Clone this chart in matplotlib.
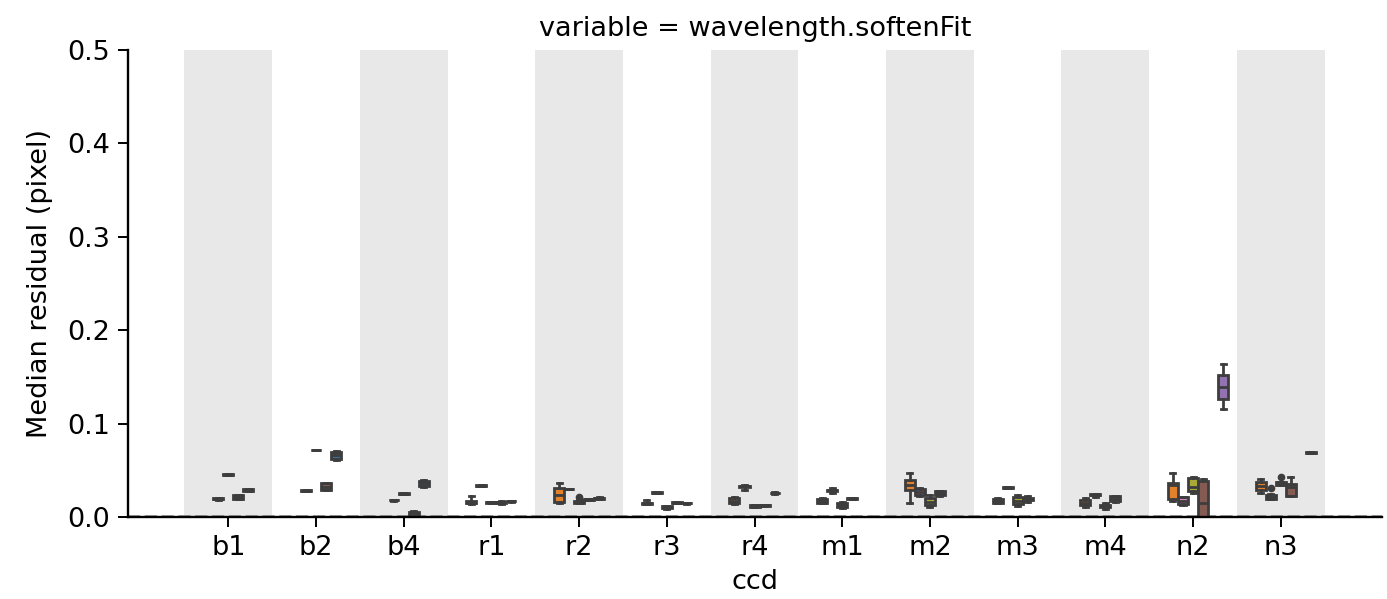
import colorsys

import matplotlib
matplotlib.use("Agg")
import matplotlib.pyplot as plt
import matplotlib.colors as mcolors
import numpy as np

N = np.nan

ccds = ["b1", "b2", "b4", "r1", "r2", "r3", "r4", "m1", "m2", "m3", "m4", "n2", "n3"]
n_hue = 7
hue_colors = ["#2ca02c", "#ff7f0e", "#e377c2", "#bcbd22", "#8c564b", "#1f77b4", "#9467bd"]

# rows = ccd, columns = hue level
whislo = [
    [N, N, 0.0185, 0.0448, 0.0190, 0.0275, N],
    [N, N, 0.0275, 0.0712, 0.0285, 0.0615, N],
    [N, N, 0.0175, 0.0245, 0.0000, 0.0320, N],
    [N, 0.0140, 0.0330, 0.0150, 0.0135, 0.0165, N],
    [N, 0.0150, 0.0295, 0.0150, 0.0185, 0.0190, N],
    [N, 0.0135, 0.0255, 0.0090, 0.0148, 0.0143, N],
    [N, 0.0135, 0.0290, 0.0110, 0.0120, 0.0250, N],
    [N, 0.0145, 0.0260, 0.0095, 0.0195, N, N],
    [N, 0.0147, 0.0220, 0.0104, 0.0230, N, N],
    [N, 0.0145, 0.0310, 0.0118, 0.0160, N, N],
    [N, 0.0110, 0.0210, 0.0090, 0.0160, N, N],
    [N, 0.0170, 0.0125, 0.0254, 0.0000, N, 0.1153],
    [N, 0.0254, 0.0190, 0.0340, 0.0220, N, 0.0680],
]
q1 = [
    [N, N, 0.0190, 0.0450, 0.0195, 0.0280, N],
    [N, N, 0.0280, 0.0715, 0.0290, 0.0625, N],
    [N, N, 0.0177, 0.0248, 0.0005, 0.0330, N],
    [N, 0.0145, 0.0333, 0.0153, 0.0155, 0.0167, N],
    [N, 0.0160, 0.0297, 0.0155, 0.0187, 0.0192, N],
    [N, 0.0140, 0.0258, 0.0095, 0.0150, 0.0145, N],
    [N, 0.0145, 0.0325, 0.0112, 0.0122, 0.0252, N],
    [N, 0.0150, 0.0280, 0.0105, 0.0197, N, N],
    [N, 0.0290, 0.0235, 0.0128, 0.0240, N, N],
    [N, 0.0155, 0.0312, 0.0135, 0.0180, N, N],
    [N, 0.0125, 0.0235, 0.0110, 0.0170, N, N],
    [N, 0.0190, 0.0135, 0.0280, 0.0000, N, 0.1263],
    [N, 0.0285, 0.0195, 0.0345, 0.0225, N, 0.0683],
]
med = [
    [N, N, 0.0195, 0.0453, 0.0215, 0.0290, N],
    [N, N, 0.0283, 0.0717, 0.0325, 0.0660, N],
    [N, N, 0.0180, 0.0250, 0.0030, 0.0360, N],
    [N, 0.0155, 0.0336, 0.0157, 0.0160, 0.0170, N],
    [N, 0.0232, 0.0300, 0.0164, 0.0190, 0.0200, N],
    [N, 0.0145, 0.0260, 0.0104, 0.0153, 0.0147, N],
    [N, 0.0175, 0.0330, 0.0118, 0.0125, 0.0257, N],
    [N, 0.0175, 0.0286, 0.0132, 0.0200, N, N],
    [N, 0.0340, 0.0270, 0.0164, 0.0257, N, N],
    [N, 0.0175, 0.0314, 0.0175, 0.0190, N, N],
    [N, 0.0153, 0.0240, 0.0118, 0.0196, N, N],
    [N, 0.0343, 0.0175, 0.0325, 0.0153, N, 0.1395],
    [N, 0.0332, 0.0215, 0.0360, 0.0320, N, 0.0690],
]
q3 = [
    [N, N, 0.0200, 0.0456, 0.0235, 0.0300, N],
    [N, N, 0.0287, 0.0720, 0.0360, 0.0695, N],
    [N, N, 0.0183, 0.0253, 0.0055, 0.0390, N],
    [N, 0.0170, 0.0340, 0.0160, 0.0165, 0.0173, N],
    [N, 0.0315, 0.0303, 0.0172, 0.0193, 0.0208, N],
    [N, 0.0150, 0.0263, 0.0113, 0.0156, 0.0150, N],
    [N, 0.0205, 0.0335, 0.0124, 0.0128, 0.0262, N],
    [N, 0.0195, 0.0292, 0.0155, 0.0203, N, N],
    [N, 0.0400, 0.0295, 0.0200, 0.0275, N, N],
    [N, 0.0195, 0.0317, 0.0210, 0.0200, N, N],
    [N, 0.0185, 0.0245, 0.0125, 0.0220, N, N],
    [N, 0.0368, 0.0210, 0.0415, 0.0390, N, 0.1520],
    [N, 0.0375, 0.0240, 0.0375, 0.0353, N, 0.0697],
]
whishi = [
    [N, N, 0.0205, 0.0460, 0.0240, 0.0305, N],
    [N, N, 0.0290, 0.0722, 0.0365, 0.0705, N],
    [N, N, 0.0185, 0.0255, 0.0060, 0.0400, N],
    [N, 0.0230, 0.0343, 0.0163, 0.0170, 0.0175, N],
    [N, 0.0368, 0.0305, 0.0178, 0.0195, 0.0210, N],
    [N, 0.0180, 0.0265, 0.0118, 0.0158, 0.0152, N],
    [N, 0.0210, 0.0340, 0.0126, 0.0130, 0.0265, N],
    [N, 0.0200, 0.0310, 0.0160, 0.0205, N, N],
    [N, 0.0468, 0.0310, 0.0236, 0.0280, N, N],
    [N, 0.0200, 0.0320, 0.0235, 0.0220, N, N],
    [N, 0.0200, 0.0250, 0.0150, 0.0230, N, N],
    [N, 0.0475, 0.0218, 0.0425, 0.0405, N, 0.1635],
    [N, 0.0403, 0.0245, 0.0380, 0.0425, N, 0.0700],
]
# (ccd index, hue index, value)
outliers = [(4, 3, 0.021), (12, 2, 0.0314), (12, 3, 0.0432)]


def desaturate(c, prop=0.75):
    h, l, s = colorsys.rgb_to_hls(*mcolors.to_rgb(c))
    return colorsys.hls_to_rgb(h, l, s * prop)


line_color = "#3d3d3d"
lw = 2.0
slot = 0.8 / n_hue
fs = 19.5

fig = plt.figure(figsize=(13.87, 5.99), dpi=100)
ax = fig.add_axes([0.0923, 0.1369, 0.9041, 0.7796])

for i in range(len(ccds)):
    if i % 2 == 0:
        ax.axvspan(i - 0.5, i + 0.5, color="#e8e8e8", lw=0, zorder=0)

# dashed reference line just above the x axis
ax.axhline(0.0016, color="#8a8a8a", lw=1.1, linestyle=(0, (8, 3)), zorder=1)

lo_a, q1_a, med_a = np.array(whislo), np.array(q1), np.array(med)
q3_a, hi_a = np.array(q3), np.array(whishi)

for k in range(n_hue):
    stats, pos = [], []
    for i in range(len(ccds)):
        if np.isnan(med_a[i, k]):
            continue
        fl = [v for (ci, hk, v) in outliers if ci == i and hk == k]
        stats.append(dict(whislo=lo_a[i, k], q1=q1_a[i, k], med=med_a[i, k],
                          q3=q3_a[i, k], whishi=hi_a[i, k], fliers=fl))
        pos.append(i + (k - (n_hue - 1) / 2) * slot)
    if not stats:
        continue
    ax.bxp(stats, positions=pos, widths=slot, capwidths=slot * 0.5,
           patch_artist=True, manage_ticks=False,
           boxprops=dict(facecolor=desaturate(hue_colors[k]), edgecolor=line_color, lw=lw),
           medianprops=dict(color=line_color, lw=lw),
           whiskerprops=dict(color=line_color, lw=lw),
           capprops=dict(color=line_color, lw=lw),
           flierprops=dict(marker="o", markersize=4.5, markerfacecolor=line_color,
                           markeredgecolor=line_color))

ax.set_xlim(-1.144, 13.155)
ax.set_ylim(0, 0.5)
ax.set_xticks(range(len(ccds)))
ax.set_xticklabels(ccds)
ax.set_yticks(np.arange(0, 0.51, 0.1))
ax.set_yticklabels([f"{v:.1f}" for v in np.arange(0, 0.51, 0.1)])
ax.tick_params(labelsize=fs, length=7, width=1.4, pad=6)
for s in ["top", "right"]:
    ax.spines[s].set_visible(False)
for s in ["left", "bottom"]:
    ax.spines[s].set_linewidth(1.7)
    ax.spines[s].set_zorder(5)

ax.set_xlabel("ccd", fontsize=fs, labelpad=6)
ax.set_ylabel("Median residual (pixel)", fontsize=fs, labelpad=10)
ax.set_title("variable = wavelength.softenFit", fontsize=fs, pad=10)

fig.savefig("out.png", dpi=100)
